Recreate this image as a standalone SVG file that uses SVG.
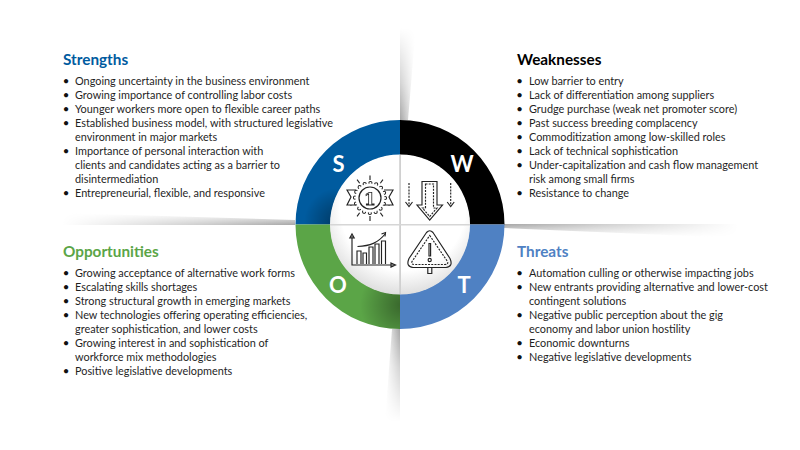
<svg xmlns="http://www.w3.org/2000/svg" width="800" height="450" viewBox="0 0 800 450">
<style>
text{font-family:"Lato","Open Sans","Liberation Sans",sans-serif}
.h{font-size:15.3px;font-weight:700}
.t{font-size:10.88px;fill:#1f1f1f}
.b{font-size:11.4px;fill:#111;text-anchor:middle}
.l{font-size:22px;font-weight:700;fill:#fff;text-anchor:middle}
.i{fill:none;stroke:#222;stroke-width:1.15}
.d{stroke-dasharray:2 1.2}
</style>
<defs>
<linearGradient id="gt" gradientUnits="userSpaceOnUse" x1="400" y1="0" x2="415" y2="0"><stop offset="0" stop-color="#a6a6a6"/><stop offset="1" stop-color="#fff"/></linearGradient>
<linearGradient id="gb" gradientUnits="userSpaceOnUse" x1="400" y1="0" x2="385" y2="0"><stop offset="0" stop-color="#a6a6a6"/><stop offset="1" stop-color="#fff"/></linearGradient>
<linearGradient id="gl" gradientUnits="userSpaceOnUse" x1="0" y1="225" x2="0" y2="213"><stop offset="0" stop-color="#a6a6a6"/><stop offset="1" stop-color="#fff"/></linearGradient>
<linearGradient id="gr" gradientUnits="userSpaceOnUse" x1="0" y1="224" x2="0" y2="237"><stop offset="0" stop-color="#a6a6a6"/><stop offset="1" stop-color="#fff"/></linearGradient>
<linearGradient id="fv1" gradientUnits="userSpaceOnUse" x1="0" y1="28" x2="0" y2="120"><stop offset="0" stop-color="#000"/><stop offset=".6" stop-color="#808080"/><stop offset="1" stop-color="#fff"/></linearGradient>
<linearGradient id="fv2" gradientUnits="userSpaceOnUse" x1="0" y1="422" x2="0" y2="329"><stop offset="0" stop-color="#000"/><stop offset=".6" stop-color="#808080"/><stop offset="1" stop-color="#fff"/></linearGradient>
<linearGradient id="fh1" gradientUnits="userSpaceOnUse" x1="62" y1="0" x2="295" y2="0"><stop offset="0" stop-color="#000"/><stop offset=".6" stop-color="#909090"/><stop offset="1" stop-color="#fff"/></linearGradient>
<linearGradient id="fh2" gradientUnits="userSpaceOnUse" x1="738" y1="0" x2="504" y2="0"><stop offset="0" stop-color="#000"/><stop offset=".6" stop-color="#909090"/><stop offset="1" stop-color="#fff"/></linearGradient>
<mask id="m1" maskUnits="userSpaceOnUse" x="0" y="0" width="800" height="450"><rect x="390" y="20" width="40" height="105" fill="url(#fv1)"/></mask>
<mask id="m2" maskUnits="userSpaceOnUse" x="0" y="0" width="800" height="450"><rect x="375" y="325" width="30" height="100" fill="url(#fv2)"/></mask>
<mask id="m3" maskUnits="userSpaceOnUse" x="0" y="0" width="800" height="450"><rect x="55" y="205" width="245" height="25" fill="url(#fh1)"/></mask>
<mask id="m4" maskUnits="userSpaceOnUse" x="0" y="0" width="800" height="450"><rect x="500" y="220" width="245" height="25" fill="url(#fh2)"/></mask>
<radialGradient id="sb" gradientUnits="userSpaceOnUse" cx="338" cy="222" r="34"><stop offset="0" stop-color="#000" stop-opacity=".38"/><stop offset="1" stop-color="#000" stop-opacity="0"/></radialGradient>
<radialGradient id="sg" gradientUnits="userSpaceOnUse" cx="402" cy="305" r="42"><stop offset="0" stop-color="#000" stop-opacity=".38"/><stop offset="1" stop-color="#000" stop-opacity="0"/></radialGradient>
<radialGradient id="core" gradientUnits="userSpaceOnUse" cx="403" cy="208" r="87"><stop offset=".72" stop-color="#fff"/><stop offset="1" stop-color="#dedede"/></radialGradient>
<filter id="lineblur" x="-10%" y="-10%" width="120%" height="120%"><feGaussianBlur stdDeviation=".6"/></filter>
<clipPath id="ringb"><path d="M295.5 224.5A104.5 104.5 0 0 1 400 120V155A69.5 69.5 0 0 0 330.5 224.5Z"/></clipPath>
<clipPath id="ringg"><path d="M295.5 224.5A104.5 104.5 0 0 0 400 329V294A69.5 69.5 0 0 1 330.5 224.5Z"/></clipPath>
</defs>

<g id="shadows">
<polygon points="400,25 416,25 408,120 400,120" fill="url(#gt)" mask="url(#m1)"/>
<polygon points="400,329 392,329 385,422 400,422" fill="url(#gb)" mask="url(#m2)"/>
<polygon points="62,213 295,220 295,225 62,225" fill="url(#gl)" mask="url(#m3)"/>
<polygon points="504,224 738,224 738,238 504,228" fill="url(#gr)" mask="url(#m4)"/>
</g>

<g id="ring">
<g id="sector-s">
<path d="M295.5 224.5A104.5 104.5 0 0 1 400 120V155A69.5 69.5 0 0 0 330.5 224.5Z" fill="#005b9f"/>
<rect x="295" y="120" width="105" height="105" fill="url(#sb)" clip-path="url(#ringb)"/>
<text class="l" x="338.5" y="172">S</text>
</g>
<g id="sector-w">
<path d="M400 120A104.5 104.5 0 0 1 504.5 224.5H469.5A69.5 69.5 0 0 0 400 155Z" fill="#000"/>
<text class="l" x="462" y="172">W</text>
</g>
<g id="sector-t">
<path d="M504.5 224.5A104.5 104.5 0 0 1 400 329V294A69.5 69.5 0 0 0 469.5 224.5Z" fill="#4f81c3"/>
<text class="l" x="464" y="293">T</text>
</g>
<g id="sector-o">
<path d="M295.5 224.5A104.5 104.5 0 0 0 400 329V294A69.5 69.5 0 0 1 330.5 224.5Z" fill="#5ba547"/>
<rect x="295" y="224.5" width="105" height="105" fill="url(#sg)" clip-path="url(#ringg)"/>
<text class="l" x="338" y="293">O</text>
</g>
</g>

<g id="core-disc">
<circle cx="400" cy="224.5" r="70" fill="url(#core)"/>
<rect x="399.2" y="155" width="1.8" height="139" fill="#d0d0d0" filter="url(#lineblur)"/>
<rect x="330" y="224" width="140" height="1.5" fill="#d6d6d6" filter="url(#lineblur)"/>
</g>

<g id="icon-medal" class="i">
<g>
<line x1="370" y1="175.5" x2="370" y2="180"/>
<line x1="370" y1="175.5" x2="370" y2="180" transform="rotate(35 370 198)"/>
<line x1="370" y1="177" x2="370" y2="180" transform="rotate(70 370 198)"/>
<line x1="370" y1="177" x2="370" y2="180" transform="rotate(110 370 198)"/>
<line x1="370" y1="175.5" x2="370" y2="180" transform="rotate(145 370 198)"/>
<line x1="370" y1="175" x2="370" y2="180" transform="rotate(180 370 198)"/>
<line x1="370" y1="175.5" x2="370" y2="180" transform="rotate(215 370 198)"/>
<line x1="370" y1="177" x2="370" y2="180" transform="rotate(250 370 198)"/>
<line x1="370" y1="177" x2="370" y2="180" transform="rotate(290 370 198)"/>
<line x1="370" y1="175.5" x2="370" y2="180" transform="rotate(325 370 198)"/>
</g>
<path d="M356 190H347L351 197L347 205H356" fill="#fff"/>
<path d="M384 190H393L389 197L393 205H384" fill="#fff"/>
<circle cx="370" cy="198" r="15" stroke-width="4.2" stroke-linecap="round" stroke-dasharray="0 5.89"/>
<circle cx="370" cy="198" r="15" stroke="#fff" stroke-width="2.2" stroke-linecap="round" stroke-dasharray="0 5.89"/>
<circle cx="370" cy="198" r="14.6" fill="#fff" stroke="none"/>
<circle cx="370" cy="198" r="11" fill="#fff" stroke-width="1.2"/>
<text x="370" y="204.5" text-anchor="middle" opacity=".99" style="font-family:'DejaVu Serif',serif;font-size:17px;font-weight:700;text-rendering:geometricPrecision" fill="#fff" stroke="#222" stroke-width=".8">1</text>
</g>

<g id="icon-arrows" class="i">
<path d="M422 181.5H437V205H442.5L429.7 220L417 205H422Z"/>
<path class="d" d="M425.5 184H433.5V208H437L429.7 216.5L422.5 208H425.5Z"/>
<path class="d" d="M409 183V205"/>
<path d="M405.5 202L409 206.5L412.5 202"/>
<path class="d" d="M450.7 183V205"/>
<path d="M447.2 202L450.7 206.5L454.2 202"/>
</g>

<g id="icon-chart" class="i">
<path d="M352 236V265H394"/>
<path d="M349.8 238L352 234L354.2 238Z"/>
<path d="M391 263L395.5 265L391 267Z"/>
<path d="M357 264V251H361V264M363 264V253H366.5V264M369 264V247H373V264M375 264V244H379V264M381.5 264V241H385.5V264"/>
<path d="M357.5 246.5C370 246 378 243 385.5 233.5"/>
<path d="M381.5 234L385.5 232.5L385 236.5"/>
</g>

<g id="icon-warning" class="i">
<path d="M426.5 232.5Q429.7 229 433 232.5L450 258.5Q453.5 266.5 446 267.5H413Q405.5 266.5 409 258.5Z"/>
<path class="d" d="M429.7 235.5L447.5 261.5Q448.5 264.5 445 264.5H414.5Q411 264.5 412 261.5Z"/>
<path d="M427.8 268V273.5H431.8V268"/>
<path d="M429 243.5H430.6V256H429Z"/>
<circle cx="429.7" cy="260" r="1.6"/>
</g>

<g id="strengths">
<text class="h" x="63" y="65" fill="#005b9f">Strengths</text>
<text class="b" x="66" y="84.5">•</text><text class="t" x="75" y="84.5">Ongoing uncertainty in the business environment</text>
<text class="b" x="66" y="98.5">•</text><text class="t" x="75" y="98.5">Growing importance of controlling labor costs</text>
<text class="b" x="66" y="112.5">•</text><text class="t" x="75" y="112.5">Younger workers more open to flexible career paths</text>
<text class="b" x="66" y="126.5">•</text><text class="t" x="75" y="126.5">Established business model, with structured legislative</text>
<text class="t" x="75" y="140.5">environment in major markets</text>
<text class="b" x="66" y="154.5">•</text><text class="t" x="75" y="154.5">Importance of personal interaction with</text>
<text class="t" x="75" y="168.5">clients and candidates acting as a barrier to</text>
<text class="t" x="75" y="182.5">disintermediation</text>
<text class="b" x="66" y="196.5">•</text><text class="t" x="75" y="196.5">Entrepreneurial, flexible, and responsive</text>
</g>

<g id="weaknesses">
<text class="h" x="517" y="65" fill="#000">Weaknesses</text>
<text class="b" x="519.5" y="84.5">•</text><text class="t" x="529" y="84.5">Low barrier to entry</text>
<text class="b" x="519.5" y="98.5">•</text><text class="t" x="529" y="98.5">Lack of differentiation among suppliers</text>
<text class="b" x="519.5" y="112.5">•</text><text class="t" x="529" y="112.5">Grudge purchase (weak net promoter score)</text>
<text class="b" x="519.5" y="126.5">•</text><text class="t" x="529" y="126.5">Past success breeding complacency</text>
<text class="b" x="519.5" y="140.5">•</text><text class="t" x="529" y="140.5">Commoditization among low-skilled roles</text>
<text class="b" x="519.5" y="154.5">•</text><text class="t" x="529" y="154.5">Lack of technical sophistication</text>
<text class="b" x="519.5" y="168.5">•</text><text class="t" x="529" y="168.5">Under-capitalization and cash flow management</text>
<text class="t" x="529" y="182.5">risk among small firms</text>
<text class="b" x="519.5" y="196.5">•</text><text class="t" x="529" y="196.5">Resistance to change</text>
</g>

<g id="opportunities">
<text class="h" x="63" y="257" fill="#5ba547">Opportunities</text>
<text class="b" x="66" y="276.5">•</text><text class="t" x="75" y="276.5">Growing acceptance of alternative work forms</text>
<text class="b" x="66" y="290.5">•</text><text class="t" x="75" y="290.5">Escalating skills shortages</text>
<text class="b" x="66" y="304.5">•</text><text class="t" x="75" y="304.5">Strong structural growth in emerging markets</text>
<text class="b" x="66" y="318.5">•</text><text class="t" x="75" y="318.5">New technologies offering operating efficiencies,</text>
<text class="t" x="75" y="332.5">greater sophistication, and lower costs</text>
<text class="b" x="66" y="346.5">•</text><text class="t" x="75" y="346.5">Growing interest in and sophistication of</text>
<text class="t" x="75" y="360.5">workforce mix methodologies</text>
<text class="b" x="66" y="374.5">•</text><text class="t" x="75" y="374.5">Positive legislative developments</text>
</g>

<g id="threats">
<text class="h" x="517" y="257" fill="#4f81c3">Threats</text>
<text class="b" x="519.5" y="276.5">•</text><text class="t" x="529" y="276.5">Automation culling or otherwise impacting jobs</text>
<text class="b" x="519.5" y="290.5">•</text><text class="t" x="529" y="290.5">New entrants providing alternative and lower-cost</text>
<text class="t" x="529" y="304.5">contingent solutions</text>
<text class="b" x="519.5" y="318.5">•</text><text class="t" x="529" y="318.5">Negative public perception about the gig</text>
<text class="t" x="529" y="332.5">economy and labor union hostility</text>
<text class="b" x="519.5" y="346.5">•</text><text class="t" x="529" y="346.5">Economic downturns</text>
<text class="b" x="519.5" y="360.5">•</text><text class="t" x="529" y="360.5">Negative legislative developments</text>
</g>
</svg>
